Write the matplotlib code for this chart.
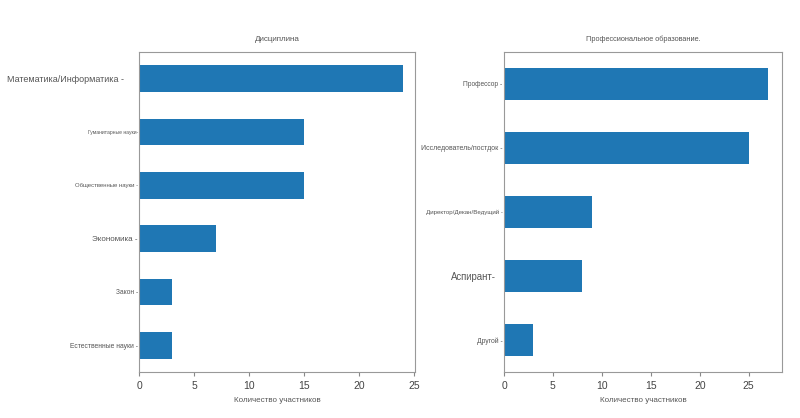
import matplotlib.pyplot as plt

plt.rcParams['font.family'] = ['Liberation Sans', 'DejaVu Sans']

disc_labels = ['Математика/Информатика', 'Гуманитарные науки', 'Общественные науки',
               'Экономика', 'Закон', 'Естественные науки']
disc_values = [24, 15, 15, 7, 3, 3]
disc_sizes = [6.5, 3.6, 4.3, 5.8, 4.8, 4.9]

prof_labels = ['Профессор', 'Исследователь/постдок', 'Директор/Декан/Ведущий',
               'Аспирант', 'Другой']
prof_values = [27, 25, 9, 8, 3]
prof_sizes = [4.8, 5, 4.4, 6.9, 4.9]

xlabel = 'Количество участников'
text_col = '#555555'
bar_col = '#1f77b4'

fig = plt.figure(figsize=(8, 4.18), dpi=100)
ax1 = fig.add_axes([0.174, 0.110, 0.345, 0.766])
ax2 = fig.add_axes([0.630, 0.110, 0.3475, 0.766])


def draw(ax, labels, values, sizes, title, xmax, dash, tsize):
    ax.barh(range(len(values)), values, height=0.5, color=bar_col)
    ax.set_ylim(len(values) - 0.5, -0.5)
    ax.set_xlim(0, xmax)
    ax.set_xticks([0, 5, 10, 15, 20, 25])
    ax.set_yticks(range(len(values)))
    ax.set_yticklabels([l + d for l, d in zip(labels, dash)])
    for t, s in zip(ax.get_yticklabels(), sizes):
        t.set_fontsize(s)
        t.set_color(text_col)
    ax.tick_params(axis='y', length=0, pad=1)
    ax.tick_params(axis='x', labelsize=7.5, colors='#444444', length=3, color='#888888')
    for sp in ax.spines.values():
        sp.set_color('#999999')
    ax.set_title(title, fontsize=tsize, color=text_col, pad=8)
    ax.set_xlabel(xlabel, fontsize=5.8, color=text_col, labelpad=4)


draw(ax1, disc_labels, disc_values, disc_sizes, 'Дисциплина', 25.1,
     [' -', '-', ' -', ' -', ' -', ' -'], 5.8)
draw(ax2, prof_labels, prof_values, prof_sizes, 'Профессиональное образование.', 28.4,
     [' -', ' -', ' -', '-', ' -'], 5.3)
ax1.get_yticklabels()[0].set_x(-0.05)
ax2.get_yticklabels()[3].set_x(-0.025)

fig.savefig('out.png', dpi=100)
